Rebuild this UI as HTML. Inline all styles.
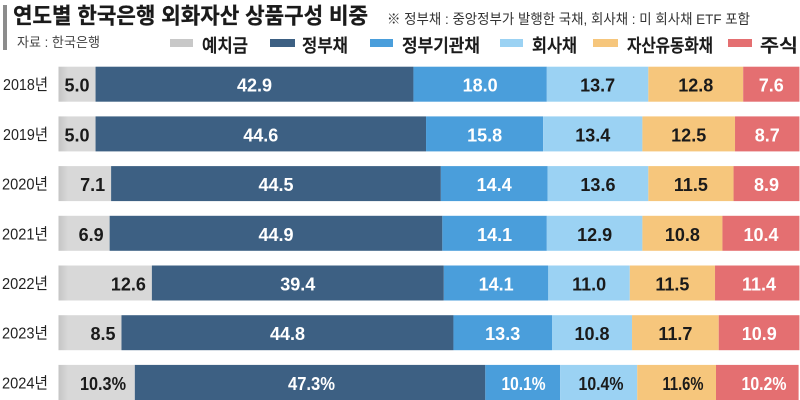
<!DOCTYPE html>
<html><head><meta charset="utf-8"><style>
html,body{margin:0;padding:0;background:#fff;}
svg{display:block;}
.k{font-family:"Liberation Sans","Noto Sans CJK KR",sans-serif;}
.lg{font-family:"Liberation Sans","Noto Sans CJK KR",sans-serif;font-size:18px;font-weight:500;fill:#1a1a1a;stroke:#1a1a1a;stroke-width:0.45;}
.n{font-family:"Liberation Sans",sans-serif;font-weight:bold;font-size:18px;text-anchor:middle;}
.w{fill:#fff;}
.d{fill:#1a1a1a;}
.g{text-anchor:end;}
.y{font-family:"Liberation Sans","Noto Sans CJK KR",sans-serif;font-size:16px;fill:#222;}
</style></head><body>
<svg width="800" height="400" viewBox="0 0 800 400" xmlns="http://www.w3.org/2000/svg">
<defs>
<linearGradient id="gr" gradientUnits="userSpaceOnUse" x1="58" y1="0" x2="68" y2="0">
<stop offset="0" stop-color="#c4c4c4"/><stop offset="1" stop-color="#d8d8d8"/>
</linearGradient>
</defs>
<rect x="0" y="0" width="800" height="400" fill="#fff"/>
<!-- header -->
<rect x="3" y="5" width="4" height="45" fill="#8c8c8c"/>
<text class="k" x="13" y="23.5" font-size="22" font-weight="bold" fill="#1a1a1a" stroke="#1a1a1a" stroke-width="0.3" textLength="355" lengthAdjust="spacingAndGlyphs">연도별 한국은행 외화자산 상품구성 비중</text>
<text class="k" x="387" y="24" font-size="14" fill="#333" textLength="363" lengthAdjust="spacingAndGlyphs">※ 정부채 : 중앙정부가 발행한 국채, 회사채 : 미 회사채 ETF 포함</text>
<text class="k" x="17" y="47" font-size="13.5" fill="#444" textLength="83" lengthAdjust="spacingAndGlyphs">자료 : 한국은행</text>
<!-- legend -->
<rect x="170" y="39" width="23" height="8" fill="#c8c8c8"/>
<text class="lg" x="202" y="52" textLength="46" lengthAdjust="spacingAndGlyphs">예치금</text>
<rect x="270" y="39" width="25" height="8" fill="#3d6083"/>
<text class="lg" x="302" y="52" textLength="46" lengthAdjust="spacingAndGlyphs">정부채</text>
<rect x="370" y="39" width="23" height="8" fill="#4a9edb"/>
<text class="lg" x="402" y="52" textLength="78" lengthAdjust="spacingAndGlyphs">정부기관채</text>
<rect x="500" y="39" width="23" height="8" fill="#9bd2f3"/>
<text class="lg" x="532" y="52" textLength="45" lengthAdjust="spacingAndGlyphs">회사채</text>
<rect x="593" y="39" width="25" height="8" fill="#f6c67c"/>
<text class="lg" x="627" y="52" textLength="86" lengthAdjust="spacingAndGlyphs">자산유동화채</text>
<rect x="728" y="39" width="24" height="8" fill="#e46f71"/>
<text class="lg" x="760" y="52" textLength="38" lengthAdjust="spacingAndGlyphs">주식</text>

<!-- 2018 -->
<g>
<rect x="58.5" y="66.7" width="37.05" height="35" fill="url(#gr)"/>
<rect x="95.55" y="66.7" width="317.89" height="35" fill="#3d6083"/>
<rect x="413.44" y="66.7" width="133.38" height="35" fill="#4a9edb"/>
<rect x="546.82" y="66.7" width="101.52" height="35" fill="#9bd2f3"/>
<rect x="648.34" y="66.7" width="94.84" height="35" fill="#f6c67c"/>
<rect x="743.18" y="66.7" width="56.32" height="35" fill="#e46f71"/>
<text class="y" x="3" y="90.2" textLength="45" lengthAdjust="spacingAndGlyphs">2018년</text>
<text class="n d g" x="89.5" y="91.7">5.0</text>
<text class="n w" x="254.5" y="91.7">42.9</text>
<text class="n w" x="480.1" y="91.7">18.0</text>
<text class="n d" x="597.6" y="91.7">13.7</text>
<text class="n d" x="695.8" y="91.7">12.8</text>
<text class="n w" x="771.3" y="91.7">7.6</text>
</g>
<!-- 2019 -->
<g>
<rect x="58.5" y="116.4" width="37.05" height="35" fill="url(#gr)"/>
<rect x="95.55" y="116.4" width="330.49" height="35" fill="#3d6083"/>
<rect x="426.04" y="116.4" width="117.07" height="35" fill="#4a9edb"/>
<rect x="543.11" y="116.4" width="99.3" height="35" fill="#9bd2f3"/>
<rect x="642.41" y="116.4" width="92.62" height="35" fill="#f6c67c"/>
<rect x="735.03" y="116.4" width="64.47" height="35" fill="#e46f71"/>
<text class="y" x="3" y="139.9" textLength="45" lengthAdjust="spacingAndGlyphs">2019년</text>
<text class="n d g" x="89.5" y="141.4">5.0</text>
<text class="n w" x="260.8" y="141.4">44.6</text>
<text class="n w" x="484.6" y="141.4">15.8</text>
<text class="n d" x="592.8" y="141.4">13.4</text>
<text class="n d" x="688.7" y="141.4">12.5</text>
<text class="n w" x="767.3" y="141.4">8.7</text>
</g>
<!-- 2020 -->
<g>
<rect x="58.5" y="166.1" width="52.61" height="35" fill="url(#gr)"/>
<rect x="111.11" y="166.1" width="329.75" height="35" fill="#3d6083"/>
<rect x="440.86" y="166.1" width="106.7" height="35" fill="#4a9edb"/>
<rect x="547.56" y="166.1" width="100.78" height="35" fill="#9bd2f3"/>
<rect x="648.34" y="166.1" width="85.21" height="35" fill="#f6c67c"/>
<rect x="733.55" y="166.1" width="65.95" height="35" fill="#e46f71"/>
<text class="y" x="2" y="189.6" textLength="46" lengthAdjust="spacingAndGlyphs">2020년</text>
<text class="n d g" x="105.1" y="191.1">7.1</text>
<text class="n w" x="276.0" y="191.1">44.5</text>
<text class="n w" x="494.2" y="191.1">14.4</text>
<text class="n d" x="597.95" y="191.1">13.6</text>
<text class="n d" x="690.9" y="191.1">11.5</text>
<text class="n w" x="766.5" y="191.1">8.9</text>
</g>
<!-- 2021 -->
<g>
<rect x="58.5" y="215.8" width="51.13" height="35" fill="url(#gr)"/>
<rect x="109.63" y="215.8" width="332.71" height="35" fill="#3d6083"/>
<rect x="442.34" y="215.8" width="104.48" height="35" fill="#4a9edb"/>
<rect x="546.82" y="215.8" width="95.59" height="35" fill="#9bd2f3"/>
<rect x="642.41" y="215.8" width="80.03" height="35" fill="#f6c67c"/>
<rect x="722.44" y="215.8" width="77.06" height="35" fill="#e46f71"/>
<text class="y" x="2" y="239.3" textLength="46" lengthAdjust="spacingAndGlyphs">2021년</text>
<text class="n d g" x="103.6" y="240.8">6.9</text>
<text class="n w" x="276.0" y="240.8">44.9</text>
<text class="n w" x="494.6" y="240.8">14.1</text>
<text class="n d" x="594.6" y="240.8">12.9</text>
<text class="n d" x="682.4" y="240.8">10.8</text>
<text class="n w" x="761.0" y="240.8">10.4</text>
</g>
<!-- 2022 -->
<g>
<rect x="58.5" y="265.5" width="93.37" height="35" fill="url(#gr)"/>
<rect x="151.87" y="265.5" width="291.95" height="35" fill="#3d6083"/>
<rect x="443.82" y="265.5" width="104.48" height="35" fill="#4a9edb"/>
<rect x="548.3" y="265.5" width="81.51" height="35" fill="#9bd2f3"/>
<rect x="629.81" y="265.5" width="85.22" height="35" fill="#f6c67c"/>
<rect x="715.03" y="265.5" width="84.47" height="35" fill="#e46f71"/>
<text class="y" x="2" y="289.0" textLength="46" lengthAdjust="spacingAndGlyphs">2022년</text>
<text class="n d g" x="145.9" y="290.5">12.6</text>
<text class="n w" x="297.8" y="290.5">39.4</text>
<text class="n w" x="496.1" y="290.5">14.1</text>
<text class="n d" x="589.1" y="290.5">11.0</text>
<text class="n d" x="672.4" y="290.5">11.5</text>
<text class="n w" x="759.0" y="290.5">11.4</text>
</g>
<!-- 2023 -->
<g>
<rect x="58.5" y="315.2" width="62.99" height="35" fill="url(#gr)"/>
<rect x="121.49" y="315.2" width="331.96" height="35" fill="#3d6083"/>
<rect x="453.45" y="315.2" width="98.56" height="35" fill="#4a9edb"/>
<rect x="552.01" y="315.2" width="80.02" height="35" fill="#9bd2f3"/>
<rect x="632.03" y="315.2" width="86.7" height="35" fill="#f6c67c"/>
<rect x="718.73" y="315.2" width="80.77" height="35" fill="#e46f71"/>
<text class="y" x="2" y="338.7" textLength="46" lengthAdjust="spacingAndGlyphs">2023년</text>
<text class="n d g" x="115.5" y="340.2">8.5</text>
<text class="n w" x="287.5" y="340.2">44.8</text>
<text class="n w" x="502.7" y="340.2">13.3</text>
<text class="n d" x="592.0" y="340.2">10.8</text>
<text class="n d" x="675.4" y="340.2">11.7</text>
<text class="n w" x="759.3" y="340.2">10.9</text>
</g>
<!-- 2024 -->
<g>
<rect x="58.5" y="364.9" width="76.32" height="35.1" fill="url(#gr)"/>
<rect x="134.82" y="364.9" width="350.5" height="35.1" fill="#3d6083"/>
<rect x="485.32" y="364.9" width="74.84" height="35.1" fill="#4a9edb"/>
<rect x="560.16" y="364.9" width="77.06" height="35.1" fill="#9bd2f3"/>
<rect x="637.22" y="364.9" width="78.78" height="35.1" fill="#f6c67c"/>
<rect x="716" y="364.9" width="82.6" height="35.1" fill="#e46f71"/>
<text class="y" x="2" y="388.4" textLength="46" lengthAdjust="spacingAndGlyphs">2024년</text>
<text class="n d g" x="126" y="389.9" textLength="46" lengthAdjust="spacingAndGlyphs">10.3%</text>
<text class="n w" x="311.5" y="389.9" textLength="47" lengthAdjust="spacingAndGlyphs">47.3%</text>
<text class="n w" x="523.5" y="389.9" textLength="44" lengthAdjust="spacingAndGlyphs">10.1%</text>
<text class="n d" x="601" y="389.9" textLength="45" lengthAdjust="spacingAndGlyphs">10.4%</text>
<text class="n d" x="683" y="389.9" textLength="41" lengthAdjust="spacingAndGlyphs">11.6%</text>
<text class="n w" x="764" y="389.9" textLength="45" lengthAdjust="spacingAndGlyphs">10.2%</text>
</g>
</svg>
</body></html>
